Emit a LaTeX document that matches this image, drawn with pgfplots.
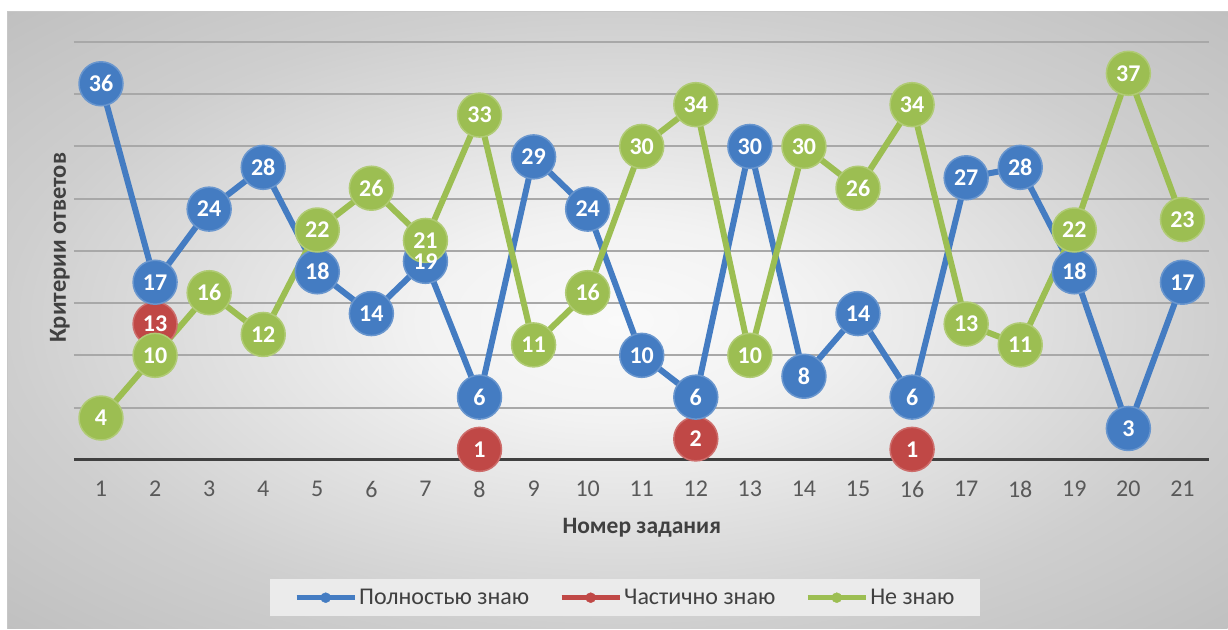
\documentclass[border=0pt]{standalone}
\usepackage{fontspec}
\setmainfont{Carlito}
\usepackage{pgfplots}
\usepackage{pgfplotstable}
\pgfplotsset{compat=1.18}

\definecolor{cblue}{RGB}{68,124,194}
\definecolor{cred}{RGB}{192,72,70}
\definecolor{cgreen}{RGB}{156,190,82}
\definecolor{ctick}{RGB}{89,89,89}
\definecolor{ctitle}{RGB}{64,64,64}

% answers per question
\pgfplotstableread{
q  full none
1  36   4
2  17   10
3  24   16
4  28   12
5  18   22
6  14   26
7  19   21
8  6    33
9  29   11
10 24   16
11 10   30
12 6    34
13 30   10
14 8    30
15 14   26
16 6    34
17 27   13
18 28   11
19 18   22
20 3    37
21 17   23
}\maindata

% "partly know" has answers for four questions only
\pgfplotstableread{
q  part
2  13
8  1
12 2
16 1
}\partdata

% soft radial fill of the chart area
\pgfdeclareradialshading{chartbg}{\pgfpoint{0bp}{0bp}}{%
  color(0bp)=(black!2); color(8bp)=(black!5); color(25bp)=(black!19);
  color(36bp)=(black!25); color(50bp)=(black!25)}

\pgfplotsset{
  series/.style={
    line width=6bp, mark=*, mark size=22bp,
    mark options={line width=1.5bp, fill=#1, draw=#1!80!white},
    color=#1,
  },
  valuelabels/.style={
    draw=none, mark=none, forget plot,
    nodes near coords,
    every node near coord/.append style={anchor=center, text=white,
      inner sep=0pt, font=\bfseries\fontsize{24bp}{28bp}\selectfont},
  },
  legendline/.style={legend image code/.code={
    \draw[#1, line width=5bp] (0bp,0bp) -- (58bp,0bp);
    \fill[#1] (29bp,0bp) circle (5bp);}},
}

\begin{document}
\begin{tikzpicture}
\fill[white] (0bp,0bp) rectangle (1228bp,629bp);
\shade[shading=chartbg] (8bp,0bp) rectangle (1228bp,617bp);
\draw[black!22, line width=1bp] (8bp,0bp) -- (8bp,617bp) -- (1228bp,617bp);

\begin{axis}[
  at={(74bp,169bp)}, anchor=south west, scale only axis,
  width=1136bp, height=418bp,
  xmin=0.5, xmax=21.5, ymin=0, ymax=40,
  xtick={1,...,21}, ytick={5,10,...,40}, yticklabels={},
  extra y ticks={0}, extra y tick labels={},
  extra y tick style={grid style={black!75, line width=3bp}},
  ymajorgrids, grid style={black!34, line width=2bp},
  axis line style={draw=none}, major tick length=0pt,
  clip=false,
  /pgf/number format/assume math mode=true,
  tick label style={font=\fontsize{24bp}{28bp}\selectfont, text=ctick},
  xticklabel style={yshift=-18bp},
  xlabel={Номер задания}, ylabel={Критерии ответов},
  every axis x label/.style={at={(axis description cs:0.5,0)}, anchor=center,
    yshift=-68bp, font=\bfseries\fontsize{23.5bp}{28bp}\selectfont, text=ctitle},
  every axis y label/.style={at={(axis description cs:0,0.5)}, anchor=center,
    xshift=-14bp, yshift=3bp, rotate=90,
    font=\bfseries\fontsize{24.5bp}{28bp}\selectfont, text=ctitle},
  legend style={at={(axis description cs:0.4855,-0.330)}, anchor=center,
    draw=none, fill=black!8, legend columns=3,
    font=\fontsize{24bp}{28bp}\selectfont, text=ctitle,
    inner xsep=24bp, inner ysep=8bp,
    /tikz/every even column/.append style={column sep=28bp}},
  legend cell align=left,
]

% legend entries in series order
\addlegendimage{legendline=cblue}
\addlegendentry{Полностью знаю}
\addlegendimage{legendline=cred}
\addlegendentry{Частично знаю}
\addlegendimage{legendline=cgreen}
\addlegendentry{Не знаю}

% lines and circles
\addplot[series=cred, only marks, forget plot] table[x=q, y=part] {\partdata};
\addplot[series=cblue, forget plot] table[x=q, y=full] {\maindata};
\addplot[series=cgreen, forget plot] table[x=q, y=none] {\maindata};

% values written inside the circles, above every series
\addplot[valuelabels] table[x=q, y=part] {\partdata};
\addplot[valuelabels] table[x=q, y=full] {\maindata};
\addplot[valuelabels] table[x=q, y=none] {\maindata};
\end{axis}
\end{tikzpicture}
\end{document}
